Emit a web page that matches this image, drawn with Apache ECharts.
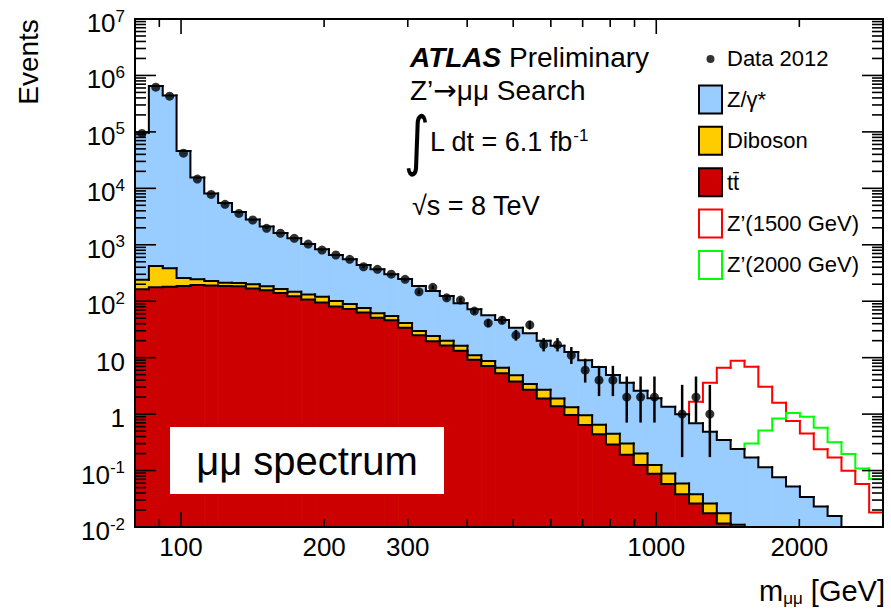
<!DOCTYPE html>
<html>
<head>
<meta charset="utf-8">
<script src="https://cdn.jsdelivr.net/npm/echarts@6/dist/echarts.min.js"></script>
<style>
  html, body { margin: 0; padding: 0; background: #fff; }
  #chart { width: 891px; height: 613px; }
</style>
</head>
<body>
<div id="chart"></div>
<script>
// Dimuon invariant-mass spectrum: 54 log-spaced bins from 80 to 3000 GeV
const massRange = [80, 3000];
const nBins = 54;

// Expected events per bin for each background process
const ttbar = [163, 176, 181, 186, 194, 190, 186, 184, 168, 156, 140, 122, 107, 95, 81, 73, 63, 51, 46, 34,
  25, 19.5, 16.5, 13.3, 9.2, 7.1, 5.3, 3.8, 2.7, 1.9, 1.38, 0.96, 0.64, 0.44, 0.29, 0.19, 0.125, 0.088, 0.058, 0.038,
  0.026, 0.0175, 0.0115, 0.008, 0.005, 0, 0, 0, 0, 0, 0, 0, 0, 0];
const diboson = [77, 245, 202, 72, 50, 38, 27, 27, 31, 28, 24, 25, 25, 25, 20, 16, 13, 10, 9, 7,
  4.6, 4.7, 3.5, 3.0, 1.8, 1.6, 1.3, 1.1, 0.7, 0.8, 0.52, 0.36, 0.31, 0.21, 0.16, 0.11, 0.075, 0.037, 0.031, 0.021,
  0.012, 0.0085, 0.006, 0.003, 0.002, 0, 0, 0, 0, 0, 0, 0, 0, 0];
const zGamma = [96800, 649600, 439600, 45700, 15260, 7870, 5290, 3590, 2600, 1916, 1456, 1153, 898, 710, 559, 463, 362, 306, 245, 206,
  156, 128, 104, 76, 61, 48, 40, 29, 23.6, 17.2, 14.3, 11.3, 8.05, 6.15, 4.5, 3.3, 2.4, 1.78, 1.26, 0.94,
  0.65, 0.46, 0.33, 0.23, 0.163, 0.114, 0.076, 0.052, 0.034, 0.023, 0.0157, 0, 0, 0];

// Z' signal contributions (drawn on top of the total background)
const zPrime1500 = [0, 0, 0, 0, 0, 0, 0, 0, 0, 0, 0, 0, 0, 0, 0, 0, 0, 0, 0, 0,
  0, 0, 0, 0, 0, 0, 0, 0, 0, 0, 0, 0, 0, 0, 0, 0, 0, 0, 0, 0,
  0.97, 3.1, 6.25, 8.56, 6.73, 2.94, 1.51, 0.70, 0.42, 0.215, 0.155, 0.099, 0.058, 0.018];
const zPrime2000 = [0, 0, 0, 0, 0, 0, 0, 0, 0, 0, 0, 0, 0, 0, 0, 0, 0, 0, 0, 0,
  0, 0, 0, 0, 0, 0, 0, 0, 0, 0, 0, 0, 0, 0, 0, 0, 0, 0, 0, 0,
  0, 0, 0, 0, 0.13, 0.40, 0.76, 0.99, 0.86, 0.55, 0.30, 0.196, 0.109, 0.071];

// Observed events per bin (Data 2012)
const dataCounts = [94000, 620000, 430000, 42000, 14600, 7800, 5200, 3600, 2750, 1960, 1600, 1300, 1030, 807, 659, 553, 408, 367, 301, 244,
  147, 176, 115, 105, 67, 41, 46, 25, 38, 17, 17, 11, 6, 4, 4, 2, 2, 2, 0, 1,
  2, 1, 0, 0, 0, 0, 0, 0, 0, 0, 0, 0, 0, 0];

// Axis ticks and labels
const xMajorTicks = [100, 1000];
const xMinorTicks = [90, 200, 300, 400, 500, 600, 700, 800, 900, 2000];
const xTickLabels = [100, 200, 300, 1000, 2000];
const yDecades = [-2, -1, 0, 1, 2, 3, 4, 5, 6, 7];
const yRange = [1e-2, 1e7];

const FONT = '"Liberation Sans", Arial, Helvetica, sans-serif';
const COL_Z = '#99ccff', COL_DIB = '#ffcc00', COL_TT = '#cc0000';
const COL_S1 = '#ff0000', COL_S2 = '#00ff00';

// Bin edges and stacked tops
const edges = Array.from({ length: nBins + 1 }, (_, i) => massRange[0] * Math.pow(massRange[1] / massRange[0], i / nBins));
const yellowTop = ttbar.map((v, i) => v + diboson[i]);
const totalBg = yellowTop.map((v, i) => v + zGamma[i]);
const sig1500Top = totalBg.map((v, i) => v + zPrime1500[i]);
const sig2000Top = totalBg.map((v, i) => v + zPrime2000[i]);

// Poisson 68% central interval for the observed counts
function poissonCdf(n, mu) {
  let term = Math.exp(-mu), sum = term;
  for (let k = 1; k <= n; k++) { term *= mu / k; sum += term; }
  return sum;
}
function poissonInterval(n) {
  if (n > 200) { const s = Math.sqrt(n); return [n - s, n + s]; }
  const a = 0.158655;
  const solve = (f, target, lo, hi) => {
    for (let it = 0; it < 80; it++) { const m = (lo + hi) / 2; if (f(m) > target) lo = m; else hi = m; }
    return (lo + hi) / 2;
  };
  const up = solve(mu => poissonCdf(n, mu), a, 0, n + 10 * Math.sqrt(n) + 10);
  const lo = n === 0 ? 0 : solve(mu => poissonCdf(n - 1, mu), 1 - a, 0, n + 10);
  return [lo, up];
}

function yPix(api, v, cs) {
  const base = cs.y + cs.height;
  if (!(v > 0)) return base;
  const y = api.coord([massRange[0], v])[1];
  return Math.max(cs.y, Math.min(base, y));
}

// Histogram data: [low edge, high edge, top, previous top]
function binData(tops, keep) {
  const out = [];
  tops.forEach((v, i) => {
    if (keep && !keep(i)) return;
    out.push([edges[i], edges[i + 1], v, i > 0 ? tops[i - 1] : v]);
  });
  return out;
}

function fillSeries(name, tops, color, z) {
  return {
    type: 'custom', name, z, silent: true,
    itemStyle: { color },
    dimensions: ['lo', 'hi', 'top', 'prev'],
    encode: { x: [0, 1], y: 2 },
    data: binData(tops),
    renderItem(params, api) {
      const cs = params.coordSys;
      const x0 = api.coord([api.value(0), 1])[0];
      const x1 = Math.min(api.coord([api.value(1), 1])[0] + 0.6, cs.x + cs.width);
      const yt = yPix(api, api.value(2), cs);
      const yb = cs.y + cs.height;
      return { type: 'rect', shape: { x: x0, y: yt, width: x1 - x0, height: yb - yt }, style: { fill: color } };
    }
  };
}

function lineSeries(name, tops, color, z, keep) {
  return {
    type: 'custom', name, z, silent: true,
    itemStyle: { color },
    dimensions: ['lo', 'hi', 'top', 'prev'],
    encode: { x: [0, 1], y: 2 },
    data: binData(tops, keep),
    renderItem(params, api) {
      const cs = params.coordSys;
      const x0 = api.coord([api.value(0), 1])[0];
      const x1 = api.coord([api.value(1), 1])[0];
      const yt = yPix(api, api.value(2), cs);
      const yp = yPix(api, api.value(3), cs);
      return {
        type: 'polyline',
        shape: { points: [[x0, yp], [x0, yt], [x1, yt]] },
        style: { stroke: color, lineWidth: 2, fill: null, lineCap: 'square', lineJoin: 'miter' }
      };
    }
  };
}

const dataPoints = [];
const dataErrors = [];
dataCounts.forEach((n, i) => {
  if (n <= 0) return;
  const c = Math.sqrt(edges[i] * edges[i + 1]);
  const iv = poissonInterval(n);
  dataPoints.push([c, n]);
  dataErrors.push([c, n, iv[0], iv[1]]);
});

const xTickData = xMajorTicks.map(v => [v, 1, 15]).concat(xMinorTicks.map(v => [v, 1, 8]));
const yTickData = [];
yDecades.forEach(k => {
  yTickData.push([100, Math.pow(10, k), 21]);
  if (k < yDecades[yDecades.length - 1]) {
    for (let m = 2; m <= 9; m++) yTickData.push([100, m * Math.pow(10, k), 11]);
  }
});

function yLabelText(k) {
  if (k === 0) return '1';
  if (k === 1) return '10';
  return '10{sup|' + k + '}';
}

const dotIcon = 'path://M0,0L0.01,0M23,28L23.01,28M7.5,14A4,4,0,1,1,15.5,14A4,4,0,1,1,7.5,14Z';

const chart = echarts.init(document.getElementById('chart'), null, { renderer: 'svg' });
chart.setOption({
  animation: false,
  backgroundColor: '#fff',
  grid: { left: 135, top: 19, width: 748, height: 508, containLabel: false },
  xAxis: {
    type: 'log', logBase: 10, min: massRange[0], max: massRange[1],
    axisLine: { show: false }, axisTick: { show: false }, axisLabel: { show: false }, splitLine: { show: false }
  },
  yAxis: {
    type: 'log', logBase: 10, min: yRange[0], max: yRange[1],
    axisLine: { show: false }, axisTick: { show: false }, axisLabel: { show: false }, splitLine: { show: false }
  },
  legend: {
    orient: 'vertical', left: 698, top: 45, padding: 0, itemGap: 11.4,
    itemWidth: 23, itemHeight: 28, selectedMode: false,
    textStyle: { fontSize: 22, color: '#000', fontFamily: FONT },
    data: [
      { name: 'Data 2012', icon: dotIcon, itemStyle: { color: '#000', borderWidth: 0 } },
      { name: 'Z/γ*', icon: 'rect', itemStyle: { color: COL_Z, borderColor: '#000', borderWidth: 2 } },
      { name: 'Diboson', icon: 'rect', itemStyle: { color: COL_DIB, borderColor: '#000', borderWidth: 2 } },
      { name: 'tt̄', icon: 'rect', itemStyle: { color: COL_TT, borderColor: '#000', borderWidth: 2 } },
      { name: 'Z’(1500 GeV)', icon: 'rect', itemStyle: { color: '#fff', borderColor: COL_S1, borderWidth: 2 } },
      { name: 'Z’(2000 GeV)', icon: 'rect', itemStyle: { color: '#fff', borderColor: COL_S2, borderWidth: 2 } }
    ]
  },
  graphic: [
    { type: 'text', x: 28, y: 62, rotation: Math.PI / 2,
      style: { text: 'Events', fontSize: 28, fontFamily: FONT, fill: '#000', align: 'center', verticalAlign: 'middle' } },
    { type: 'text', x: 410, y: 57, z: 50,
      style: { text: '{b|ATLAS} Preliminary', fontSize: 28, fontFamily: FONT, fill: '#000', verticalAlign: 'middle',
        rich: { b: { fontSize: 28, fontFamily: FONT, fontWeight: 'bold', fontStyle: 'italic', fill: '#000' } } } },
    { type: 'text', x: 410, y: 90, z: 50,
      style: { text: 'Z’{ar|→}μμ Search', fontSize: 28, fontFamily: FONT, fill: '#000', verticalAlign: 'middle',
        rich: { ar: { fontSize: 28, fontFamily: '"DejaVu Sans", sans-serif', fill: '#000' } } } },
    { type: 'text', x: 417, y: 141, z: 50, scaleY: 1.3,
      style: { text: '∫', fontSize: 50, fontFamily: '"DejaVu Sans", sans-serif', fill: '#000', align: 'center', verticalAlign: 'middle' } },
    { type: 'text', x: 430, y: 142, z: 50,
      style: { text: 'L dt = 6.1 fb{sup|-1}', fontSize: 27, fontFamily: FONT, fill: '#000', verticalAlign: 'middle',
        rich: { sup: { fontSize: 17, fontFamily: FONT, fill: '#000', verticalAlign: 'top', padding: [0, 0, 14, 0] } } } },
    { type: 'text', x: 412, y: 206, z: 50,
      style: { text: '√s = 8 TeV', fontSize: 27, fontFamily: FONT, fill: '#000', verticalAlign: 'middle' } },
    { type: 'rect', z: 50, shape: { x: 170, y: 427, width: 274, height: 67 }, style: { fill: '#fff' } },
    { type: 'text', x: 307, y: 461, z: 51,
      style: { text: 'μμ spectrum', fontSize: 40, fontFamily: FONT, fill: '#000', align: 'center', verticalAlign: 'middle' } },
    { type: 'text', x: 885, y: 591, z: 50,
      style: { text: 'm{sub|μμ} [GeV]', fontSize: 29, fontFamily: FONT, fill: '#000', align: 'right', verticalAlign: 'middle',
        rich: { sub: { fontSize: 17, fontFamily: FONT, fill: '#000', verticalAlign: 'bottom', padding: [15, 0, 0, 0] } } } }
  ],
  series: [
    fillSeries('Z/γ*', totalBg, COL_Z, 1),
    fillSeries('Diboson', yellowTop, COL_DIB, 2),
    fillSeries('tt̄', ttbar, COL_TT, 3),
    lineSeries('Z’(1500 GeV)', sig1500Top, COL_S1, 4, i => zPrime1500[i] > 0),
    lineSeries('Z’(2000 GeV)', sig2000Top, COL_S2, 4, i => zPrime2000[i] > 0),
    lineSeries('background outline', totalBg, '#000', 5),
    lineSeries('diboson outline', yellowTop, '#000', 5),
    lineSeries('ttbar outline', ttbar, '#000', 5),
    {
      // Frame around the plotting area
      type: 'custom', name: 'frame', z: 6, silent: true,
      data: [[massRange[0], yRange[0]]],
      renderItem(params) {
        const cs = params.coordSys;
        return { type: 'rect', shape: { x: cs.x, y: cs.y, width: cs.width, height: cs.height },
          style: { fill: null, stroke: '#000', lineWidth: 2 } };
      }
    },
    {
      // Mass-axis ticks, bottom and top
      type: 'custom', name: 'x ticks', z: 6, silent: true,
      dimensions: ['v', 'y', 'len'], encode: { x: 0, y: 1 },
      data: xTickData,
      renderItem(params, api) {
        const cs = params.coordSys;
        const x = api.coord([api.value(0), 1])[0];
        const L = api.value(2);
        const yb = cs.y + cs.height, yt = cs.y;
        const st = { stroke: '#000', lineWidth: 1.6 };
        return { type: 'group', children: [
          { type: 'line', shape: { x1: x, y1: yb, x2: x, y2: yb - L }, style: st },
          { type: 'line', shape: { x1: x, y1: yt, x2: x, y2: yt + L }, style: st }
        ] };
      }
    },
    {
      // Events-axis ticks, left and right
      type: 'custom', name: 'y ticks', z: 6, silent: true,
      dimensions: ['x', 'v', 'len'], encode: { x: 0, y: 1 },
      data: yTickData,
      renderItem(params, api) {
        const cs = params.coordSys;
        const y = api.coord([100, api.value(1)])[1];
        const L = api.value(2);
        const xl = cs.x, xr = cs.x + cs.width;
        const st = { stroke: '#000', lineWidth: 1.6 };
        return { type: 'group', children: [
          { type: 'line', shape: { x1: xl, y1: y, x2: xl + L, y2: y }, style: st },
          { type: 'line', shape: { x1: xr, y1: y, x2: xr - L, y2: y }, style: st }
        ] };
      }
    },
    {
      type: 'custom', name: 'x labels', z: 6, silent: true,
      encode: { x: 0, y: 1 },
      data: xTickLabels.map(v => [v, 1]),
      renderItem(params, api) {
        const cs = params.coordSys;
        const x = api.coord([api.value(0), 1])[0];
        return { type: 'text', x, y: cs.y + cs.height + 20,
          style: { text: String(api.value(0)), fontSize: 26, fontFamily: FONT, fill: '#000', align: 'center', verticalAlign: 'middle' } };
      }
    },
    {
      type: 'custom', name: 'y labels', z: 6, silent: true,
      dimensions: ['x', 'v', 'k'], encode: { x: 0, y: 1 },
      data: yDecades.map(k => [100, Math.pow(10, k), k]),
      renderItem(params, api) {
        const cs = params.coordSys;
        const y = api.coord([100, api.value(1)])[1];
        return { type: 'text', x: cs.x - 10, y: y + 4,
          style: { text: yLabelText(api.value(2)), fontSize: 26, fontFamily: FONT, fill: '#000', align: 'right', verticalAlign: 'middle',
            rich: { sup: { fontSize: 17, fontFamily: FONT, fill: '#000', verticalAlign: 'top', padding: [0, 0, 14, 0] } } } };
      }
    },
    {
      // Poisson uncertainty on the observed counts
      type: 'custom', name: 'data errors', z: 7, silent: true,
      dimensions: ['x', 'n', 'lo', 'hi'], encode: { x: 0, y: 1 },
      data: dataErrors,
      renderItem(params, api) {
        const cs = params.coordSys;
        const x = api.coord([api.value(0), 1])[0];
        const y1 = yPix(api, api.value(2), cs);
        const y2 = yPix(api, api.value(3), cs);
        return { type: 'line', shape: { x1: x, y1, x2: x, y2 }, style: { stroke: '#000', lineWidth: 2.5 } };
      }
    },
    {
      type: 'scatter', name: 'Data 2012', z: 8, silent: true,
      symbol: 'circle', symbolSize: 9,
      itemStyle: { color: '#000' },
      data: dataPoints
    }
  ]
});
</script>
</body>
</html>
